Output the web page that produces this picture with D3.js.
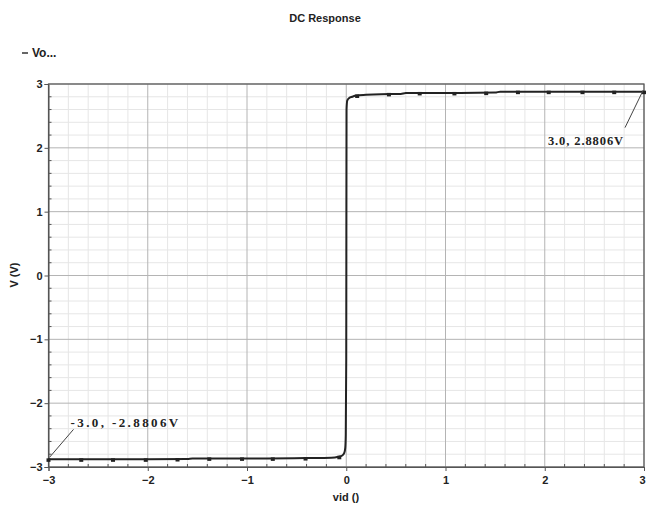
<!DOCTYPE html>
<html>
<head>
<meta charset="utf-8">
<script src="https://cdn.jsdelivr.net/npm/d3@7"></script>
<style>
  body { margin: 0; background: #fff; }
  text { font-family: "Liberation Sans", Arial, sans-serif; }
</style>
</head>
<body>
<div id="chart"></div>
<script>
// DC sweep of Vo against vid
const vid = [-3, -2.5, -2, -1.6, -1.55, -1.2, -0.8, -0.4, -0.15, -0.08, -0.04, -0.02, -0.01, -0.005,
  0, 0.003, 0.01, 0.03, 0.06, 0.1, 0.2, 0.35, 0.55, 0.6, 1, 1.5, 1.55, 2, 2.5, 3];
const vo = [-2.88, -2.88, -2.88, -2.875, -2.865, -2.865, -2.865, -2.86, -2.855, -2.84, -2.82, -2.78, -2.7, -2.5,
  -1.3, 2.6, 2.74, 2.78, 2.8, 2.82, 2.83, 2.84, 2.845, 2.86, 2.86, 2.865, 2.88, 2.88, 2.88, 2.88];

const markX = [-3, -2.67, -2.35, -2.02, -1.7, -1.38, -1.05, -0.74, -0.41, -0.07,
  0.11, 0.43, 0.74, 1.09, 1.41, 1.73, 2.04, 2.38, 2.7, 3];
const markY = [-2.88, -2.88, -2.88, -2.88, -2.875, -2.865, -2.865, -2.865, -2.86, -2.84,
  2.82, 2.845, 2.86, 2.86, 2.865, 2.88, 2.88, 2.88, 2.88, 2.88];

const xTicks = [-3, -2, -1, 0, 1, 2, 3];
const yTicks = [-3, -2, -1, 0, 1, 2, 3];

const annotations = [
  { x: 3, y: 2.8806, label: "3.0, 2.8806V" },
  { x: -3, y: -2.8806, label: "-3.0, -2.8806V" }
];

const width = 646;
const height = 509;
const margin = { top: 84, right: 2, bottom: 42, left: 48.5 };

const x = d3.scaleLinear().domain([-3, 3]).range([margin.left, width - margin.right]);
const y = d3.scaleLinear().domain([-3, 3]).range([height - margin.bottom, margin.top]);

const svg = d3.select('#chart').append('svg')
  .attr('width', width)
  .attr('height', height);

// minor grid, 5 subdivisions
const minorX = d3.range(-3, 3.001, 0.2).filter(v => Math.abs(v - Math.round(v)) > 0.01);
const minorY = minorX;

const grid = svg.append('g');
grid.selectAll('.mx').data(minorX).enter().append('line')
  .attr('x1', d => x(d)).attr('x2', d => x(d))
  .attr('y1', y(3)).attr('y2', y(-3))
  .attr('stroke', '#e6e6e6').attr('stroke-width', 1);
grid.selectAll('.my').data(minorY).enter().append('line')
  .attr('y1', d => y(d)).attr('y2', d => y(d))
  .attr('x1', x(-3)).attr('x2', x(3))
  .attr('stroke', '#e6e6e6').attr('stroke-width', 1);
grid.selectAll('.gx').data(xTicks).enter().append('line')
  .attr('x1', d => x(d)).attr('x2', d => x(d))
  .attr('y1', y(3)).attr('y2', y(-3))
  .attr('stroke', '#b4b4b4').attr('stroke-width', 1);
grid.selectAll('.gy').data(yTicks).enter().append('line')
  .attr('y1', d => y(d)).attr('y2', d => y(d))
  .attr('x1', x(-3)).attr('x2', x(3))
  .attr('stroke', '#b4b4b4').attr('stroke-width', 1);

// frame
svg.append('rect')
  .attr('x', x(-3)).attr('y', y(3))
  .attr('width', x(3) - x(-3)).attr('height', y(-3) - y(3))
  .attr('fill', 'none').attr('stroke', '#555').attr('stroke-width', 1.2);

// axes
const xAxis = svg.append('g')
  .attr('transform', `translate(0,${y(-3)})`)
  .call(d3.axisBottom(x).tickValues(xTicks).tickSize(4).tickFormat(d3.format('d')));
const yAxis = svg.append('g')
  .attr('transform', `translate(${x(-3)},0)`)
  .call(d3.axisLeft(y).tickValues(yTicks).tickSize(4).tickFormat(d3.format('d')));
[xAxis, yAxis].forEach(a => {
  a.select('.domain').attr('stroke', '#555');
  a.selectAll('.tick line').attr('stroke', '#555');
  a.selectAll('.tick text')
    .attr('fill', '#222')
    .style('font-size', '11px')
    .style('font-weight', 'bold');
});
xAxis.selectAll('.tick text').attr('dy', '0.9em');
xAxis.selectAll('.tick text').filter(d => d === 3).attr('text-anchor', 'end').attr('x', 1);
yAxis.selectAll('.tick text').attr('x', -6);

// minor ticks inside the axes
svg.append('g').selectAll('line').data(minorX).enter().append('line')
  .attr('x1', d => x(d)).attr('x2', d => x(d))
  .attr('y1', y(-3)).attr('y2', y(-3) - 3)
  .attr('stroke', '#555');
svg.append('g').selectAll('line').data(minorY).enter().append('line')
  .attr('y1', d => y(d)).attr('y2', d => y(d))
  .attr('x1', x(-3)).attr('x2', x(-3) + 3)
  .attr('stroke', '#555');

// curve
const line = d3.line().x((d, i) => x(vid[i])).y(d => y(d)).curve(d3.curveMonotoneX);
svg.append('path')
  .datum(vo)
  .attr('d', line)
  .attr('fill', 'none')
  .attr('stroke', '#222')
  .attr('stroke-width', 2);

svg.append('g').selectAll('rect').data(markX).enter().append('rect')
  .attr('x', d => x(d) - 2)
  .attr('y', (d, i) => y(markY[i]) - 1)
  .attr('width', 4).attr('height', 3.5)
  .attr('fill', '#222');

// marker annotations
const ann = svg.append('g');
const a0 = annotations[0], a1 = annotations[1];
ann.append('line')
  .attr('x1', x(a0.x) - 1).attr('y1', y(a0.y) - 1)
  .attr('x2', x(a0.x) - 19).attr('y2', y(a0.y) + 36)
  .attr('stroke', '#444');
ann.append('text')
  .attr('x', x(a0.x) - 20).attr('y', y(a0.y) + 53)
  .attr('text-anchor', 'end')
  .style('font-family', '"Liberation Serif", serif')
  .style('font-size', '12.5px').style('font-weight', 'bold')
  .style('letter-spacing', '0.9px')
  .attr('fill', '#222')
  .text(a0.label);
ann.append('line')
  .attr('x1', x(a1.x) + 1).attr('y1', y(a1.y) - 2)
  .attr('x2', x(a1.x) + 25).attr('y2', y(a1.y) - 30)
  .attr('stroke', '#444');
ann.append('text')
  .attr('x', x(a1.x) + 22).attr('y', y(a1.y) - 32)
  .style('font-family', '"Liberation Serif", serif')
  .style('font-size', '13px').style('font-weight', 'bold')
  .style('letter-spacing', '2.4px')
  .attr('fill', '#222')
  .text(a1.label);

// titles
svg.append('text')
  .attr('x', 325).attr('y', 22)
  .attr('text-anchor', 'middle')
  .style('font-size', '11px').style('font-weight', 'bold')
  .attr('fill', '#222')
  .text('DC Response');

svg.append('line')
  .attr('x1', 22).attr('x2', 28).attr('y1', 53).attr('y2', 53)
  .attr('stroke', '#333').attr('stroke-width', 1.5);
svg.append('text')
  .attr('x', 32).attr('y', 57)
  .style('font-size', '12px').style('font-weight', 'bold')
  .attr('fill', '#222')
  .text('Vo...');

svg.append('text')
  .attr('x', 346).attr('y', 501)
  .attr('text-anchor', 'middle')
  .style('font-size', '11px').style('font-weight', 'bold')
  .attr('fill', '#222')
  .text('vid ()');

svg.append('text')
  .attr('transform', 'translate(18,275) rotate(-90)')
  .attr('text-anchor', 'middle')
  .style('font-size', '11px').style('font-weight', 'bold')
  .attr('fill', '#222')
  .text('V (V)');
</script>
</body>
</html>
